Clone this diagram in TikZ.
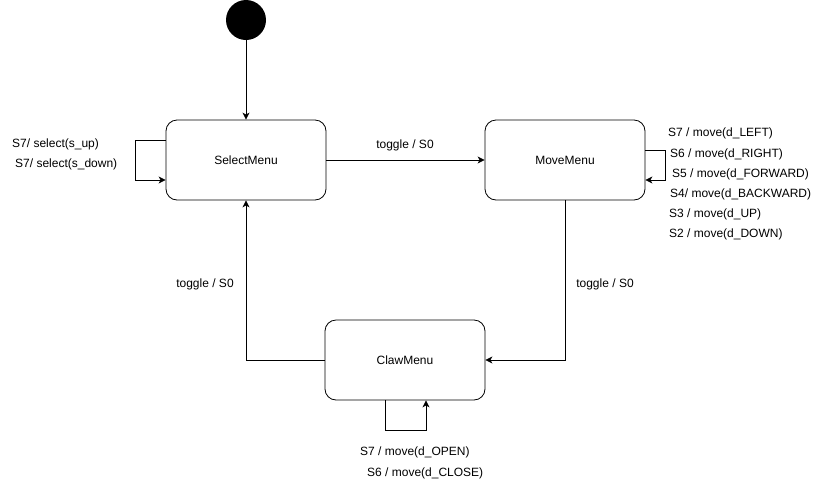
\documentclass[tikz,border=0pt]{standalone}
\usepackage{fontspec}
\setmainfont{Liberation Sans}
\usetikzlibrary{arrows.meta}
\begin{document}
\begin{tikzpicture}[x=1pt,y=-1pt,
  font=\fontsize{12}{14}\selectfont,
  state/.style={draw, line width=0.8pt, rounded corners=11pt, minimum width=160pt, minimum height=80pt, inner sep=0pt},
  initial/.style={circle, fill=black, minimum size=40pt, inner sep=0pt},
  arr/.style={draw, line width=0.8pt, -{Stealth[length=7pt,width=7pt,inset=2pt]}},
  lbl/.style={inner sep=0pt, anchor=west},
  clbl/.style={inner sep=0pt}]
\useasboundingbox (0,0) rectangle (820,491);

% states
\node[initial] (init) at (246,20) {};
\node[state] (sel) at (246,160) {SelectMenu};
\node[state] (move) at (565,160) {MoveMenu};
\node[state] (claw) at (405,360) {ClawMenu};

% transitions between states
\draw[arr] (init) -- (sel);
\draw[arr] (sel) -- (move);
\draw[arr] (move.south) |- (claw.east);
\draw[arr] (claw.west) -| (sel.south);

% self loops
\draw[arr] ([yshift=20pt]sel.west) -- ++(-30,0) |- ([yshift=-20pt]sel.west);
\draw[arr] ([yshift=10pt]move.east) -- ++(20,0) |- ([yshift=-20pt]move.east);
\draw[arr] ([xshift=-20pt]claw.south) -- ++(0,30) -| ([xshift=21pt]claw.south);

% transition labels
\node[clbl] (t1) at (405,145) {toggle / S0};
\node[clbl] (t2) at (605,284) {toggle / S0};
\node[clbl] (t3) at (205,284) {toggle / S0};

\node[lbl] (s1) at (12,144) {S7/ select(s\_up)};
\node[lbl] (s2) at (15,164) {S7/ select(s\_down)};

\node[lbl] (m1) at (668,133) {S7 / move(d\_LEFT)};
\node[lbl] (m2) at (670,154) {S6 / move(d\_RIGHT)};
\node[lbl] (m3) at (672,174) {S5 / move(d\_FORWARD)};
\node[lbl] (m4) at (670,194) {S4/ move(d\_BACKWARD)};
\node[lbl] (m5) at (669,214) {S3 / move(d\_UP)};
\node[lbl] (m6) at (669,234) {S2 / move(d\_DOWN)};

\node[lbl] (c1) at (360,452) {S7 / move(d\_OPEN)};
\node[lbl] (c2) at (367,473) {S6 / move(d\_CLOSE)};
\end{tikzpicture}
\end{document}
